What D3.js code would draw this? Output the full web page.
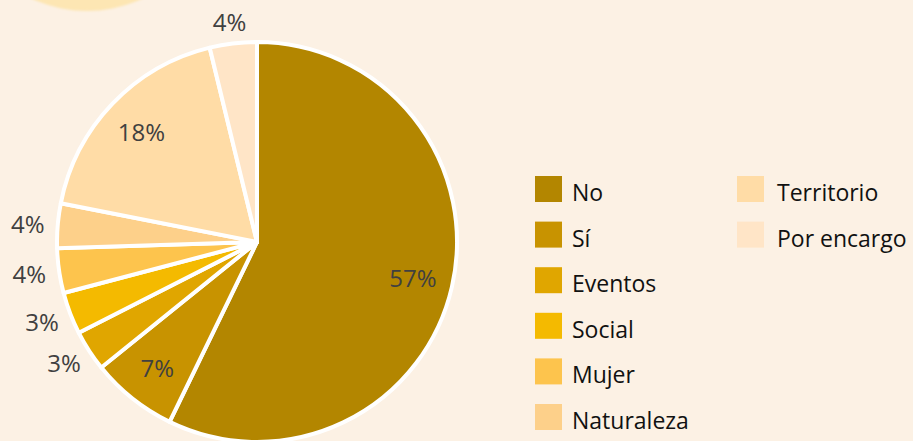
<!DOCTYPE html>
<html>
<head>
<meta charset="utf-8">
<script src="https://cdn.jsdelivr.net/npm/d3@7"></script>
<style>
html,body{margin:0;padding:0;background:#FCF1E4;}
svg{display:block;}
</style>
</head>
<body>
<svg id="chart" width="913" height="441"></svg>
<script>
const categories = ["No","Sí","Eventos","Social","Mujer","Naturaleza","Territorio","Por encargo"];
const values = [57.2, 7.0, 3.3, 3.4, 3.6, 3.6, 18.1, 3.8];
const colors = ["#B38600","#C89300","#E0A600","#F4BA00","#FDC44D","#FDD08A","#FFDCA6","#FFE5C7"];

const W = 913, H = 441;
const svg = d3.select("#chart");
svg.append("rect").attr("width", W).attr("height", H).attr("fill", "#FCF1E4");

// decorative circle at the top-left corner
const defs = svg.append("defs");
defs.append("filter").attr("id","soft").append("feGaussianBlur").attr("stdDeviation", 1.2);
svg.append("circle").attr("cx", 87).attr("cy", -120).attr("r", 131)
  .attr("fill", "#FDE6B3").attr("filter", "url(#soft)");

const cx = 257, cy = 242, R = 200;
const data = categories.map((c, i) => ({cat: c, value: values[i], color: colors[i]}));

const pie = d3.pie().value(d => d.value).sort(null);
const arcs = pie(data);
const arc = d3.arc().innerRadius(0).outerRadius(R);
const inArc = d3.arc().innerRadius(160).outerRadius(160);
const outArc = d3.arc().innerRadius(230).outerRadius(230);

const g = svg.append("g").attr("transform", `translate(${cx},${cy})`);
g.selectAll("path.slice").data(arcs).join("path")
  .attr("class", "slice")
  .attr("d", arc)
  .attr("fill", d => d.data.color)
  .attr("stroke", "#fff")
  .attr("stroke-width", 4)
  .attr("stroke-linejoin", "round");

const fmt = v => Math.round(v) + "%";
g.selectAll("text.lbl").data(arcs).join("text")
  .attr("class", "lbl")
  .attr("transform", d => {
    if (d.data.value >= 5) {
      const p = inArc.centroid(d);
      return `translate(${p[0]},${p[1]})`;
    }
    const p = outArc.centroid(d);
    return `translate(${p[0]},${p[1] * 222 / 230})`;
  })
  .attr("text-anchor", "middle")
  .attr("dominant-baseline", "central")
  .attr("font-family", "'Open Sans', sans-serif")
  .attr("font-size", 24)
  .attr("fill", "#404040")
  .text(d => fmt(d.data.value));

// legend
const perCol = 6;
const rowY = d3.scaleLinear().domain([0, 1]).range([176, 221.6]);
const colX = d3.scaleLinear().domain([0, 1]).range([535, 737]);
const leg = svg.append("g");
const items = leg.selectAll("g").data(data).join("g")
  .attr("transform", (d, i) => `translate(${colX(Math.floor(i / perCol))},${rowY(i % perCol)})`);
items.append("rect").attr("width", 27).attr("height", 26).attr("fill", d => d.color);
items.append("text")
  .attr("x", (d, i) => i < perCol ? 37 : 40).attr("y", 25)
  .attr("font-family", "'Open Sans', sans-serif")
  .attr("font-size", 23)
  .attr("fill", "#111")
  .text(d => d.cat);
</script>
</body>
</html>
